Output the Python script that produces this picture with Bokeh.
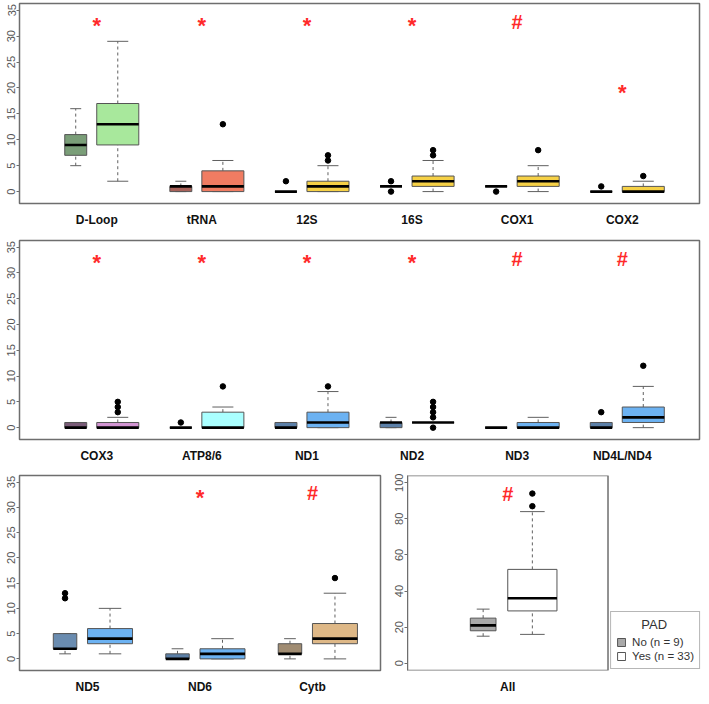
import math
from bokeh.plotting import figure
from bokeh.models import ColumnDataSource, FixedTicker, Range1d, Legend, LegendItem, BoxAnnotation
from bokeh.layouts import column, row
from bokeh.embed import file_html
from bokeh.resources import INLINE
from bokeh.core.properties import value

# ---------------- data ----------------
genes = ["D-Loop", "tRNA", "12S", "16S", "COX1", "COX2",
         "COX3", "ATP8/6", "ND1", "ND2", "ND3", "ND4L/ND4",
         "ND5", "ND6", "Cytb", "All"]

no_low     = [5, 0, 0, 1, 1, 0,  0, 0, 0, 0, 0, 0,  1, 0, 0,  15]
no_q1      = [7, 0, 0, 1, 1, 0,  0, 0, 0, 0, 0, 0,  2, 0, 1,  18]
no_median  = [9, 1, 0, 1, 1, 0,  0, 0, 0, 1, 0, 0,  2, 0, 1,  21]
no_q3      = [11, 1, 0, 1, 1, 0, 1, 0, 1, 1, 0, 1,  5, 1, 3,  25]
no_high    = [16, 2, 0, 1, 1, 0, 1, 0, 1, 2, 0, 1,  5, 2, 4,  30]
no_out     = [[], [], [2], [0, 2], [0], [1],
              [], [1], [], [], [], [3],
              [12, 13], [], [], []]

yes_low    = [2, 0, 0, 0, 0, 0,  0, 0, 0, 1, 0, 0,  1, 0, 0,  16]
yes_q1     = [9, 0, 0, 1, 1, 0,  0, 0, 0, 1, 0, 1,  3, 0, 3,  29]
yes_median = [13, 1, 1, 2, 2, 0, 0, 0, 1, 1, 0, 2,  4, 1, 4,  36]
yes_q3     = [17, 4, 2, 3, 3, 1, 1, 3, 3, 1, 1, 4,  6, 2, 7,  52]
yes_high   = [29, 6, 5, 6, 5, 2, 2, 4, 7, 1, 2, 8,  10, 4, 13, 84]
yes_out    = [[], [13], [6, 7], [7, 8], [8], [3],
              [3, 4, 5], [8], [8], [0, 2, 3, 4, 5], [], [12],
              [], [], [16], [87, 94]]

sig_mark = ["*", "*", "*", "*", "#", "*",
            "*", "*", "*", "*", "#", "#",
            "", "*", "#", "#"]
sig_y = [33, 33, 33, 33, 33, 20,
         33, 33, 33, 33, 33, 33,
         33, 33, 33, 94.5]

no_colors = ["#7A9E78", "#A8625A", "#C9A830", "#C9A830", "#C9A830", "#C9A830",
             "#7A5C78", "#7FBFBF", "#5C80A8", "#5C80A8", "#5C80A8", "#5C80A8",
             "#6A8CB0", "#5C80A8", "#A08C72", "#A9A9A9"]
yes_colors = ["#A8E89C", "#F07C62", "#F6D146", "#F6D146", "#F6D146", "#F6D146",
              "#D294D2", "#AAFFFF", "#6CB2F2", "#6CB2F2", "#6CB2F2", "#6CB2F2",
              "#6CB2F2", "#6CB2F2", "#DEB887", "#FFFFFF"]

n_no, n_yes = 9, 33
legend_title = "PAD"
legend_labels = ["No (n = 9)", "Yes (n = 33)"]

panels = [list(range(0, 6)), list(range(6, 12)), list(range(12, 15)), [15]]

FONT = "Liberation Sans"
OUTLINE = "#6E6E6E"


def make_panel(idx, width, height, borders, xr, yr, yticks, legend_box=None):
    top, right, bottom, left = borders
    p = figure(width=width, height=height, output_backend="svg", toolbar_location=None,
               x_range=Range1d(*xr), y_range=Range1d(*yr),
               min_border_top=top, min_border_right=right,
               min_border_bottom=bottom, min_border_left=left)
    p.background_fill_color = "white"
    p.border_fill_color = "white"
    p.outline_line_color = OUTLINE
    p.outline_line_width = 1.5
    p.grid.visible = False

    wy = 0.8
    wn = 0.8 * math.sqrt(n_no / n_yes)
    xs, ws, lo, q1, md, q3, hi, cols = [], [], [], [], [], [], [], []
    ox, oy = [], []
    for k, i in enumerate(idx):
        c = 2 * k
        for (x, w, l, a, m, b, h, col, outs) in [
            (c - 0.4, wn, no_low[i], no_q1[i], no_median[i], no_q3[i], no_high[i], no_colors[i], no_out[i]),
            (c + 0.4, wy, yes_low[i], yes_q1[i], yes_median[i], yes_q3[i], yes_high[i], yes_colors[i], yes_out[i]),
        ]:
            xs.append(x); ws.append(w); lo.append(l); q1.append(a); md.append(m)
            q3.append(b); hi.append(h); cols.append(col)
            for o in outs:
                ox.append(x); oy.append(o)

    src = ColumnDataSource(dict(
        x=xs, w=ws, lo=lo, q1=q1, md=md, q3=q3, hi=hi, col=cols,
        xl=[x - w / 2 for x, w in zip(xs, ws)], xr=[x + w / 2 for x, w in zip(xs, ws)],
        cl=[x - w / 4 for x, w in zip(xs, ws)], cr=[x + w / 4 for x, w in zip(xs, ws)],
    ))
    # whiskers
    p.segment(x0="x", y0="lo", x1="x", y1="q1", source=src, line_color="#606060",
              line_width=1, line_dash="3 3")
    p.segment(x0="x", y0="q3", x1="x", y1="hi", source=src, line_color="#606060",
              line_width=1, line_dash="3 3")
    # caps
    p.segment(x0="cl", y0="lo", x1="cr", y1="lo", source=src, line_color="#606060", line_width=1)
    p.segment(x0="cl", y0="hi", x1="cr", y1="hi", source=src, line_color="#606060", line_width=1)
    # boxes
    boxes = p.vbar(x="x", width="w", bottom="q1", top="q3", source=src,
                   fill_color="col", line_color="#555555", line_width=1)
    # medians
    p.segment(x0="xl", y0="md", x1="xr", y1="md", source=src, line_color="black", line_width=2.6)
    # outliers
    p.scatter(ox, oy, size=5.5, color="black")

    # significance marks
    tx, ty, tt, ts, to = [], [], [], [], []
    for k, i in enumerate(idx):
        if sig_mark[i]:
            star = sig_mark[i] == "*"
            tx.append(2 * k); ty.append(sig_y[i]); tt.append(sig_mark[i])
            ts.append("22px" if star else "20px")
            to.append(5 if star else 1)
    tsrc = ColumnDataSource(dict(x=tx, y=ty, t=tt, s=ts, o=to))
    p.text(x="x", y="y", text="t", source=tsrc, text_font=value(FONT), text_font_style="bold",
           text_font_size="s", y_offset="o", text_color="#FF2A2A", text_align="center",
           text_baseline="middle")

    # axes
    p.xaxis.ticker = FixedTicker(ticks=[2 * k for k in range(len(idx))])
    p.xaxis.major_label_overrides = {2 * k: genes[i] for k, i in enumerate(idx)}
    p.xaxis.axis_line_color = None
    p.xaxis.major_tick_line_color = None
    p.xaxis.minor_tick_line_color = None
    p.xaxis.major_label_standoff = 3
    p.xaxis.major_label_text_font = FONT
    p.xaxis.major_label_text_font_style = "bold"
    p.xaxis.major_label_text_font_size = "12px"
    p.xaxis.major_label_text_color = "#111111"

    p.yaxis.ticker = FixedTicker(ticks=yticks)
    p.yaxis.major_label_orientation = "vertical"
    p.yaxis.axis_line_color = OUTLINE
    p.yaxis.major_tick_line_color = OUTLINE
    p.yaxis.major_tick_out = 3
    p.yaxis.major_tick_in = 0
    p.yaxis.minor_tick_line_color = None
    p.yaxis.major_label_standoff = 1
    p.yaxis.major_label_text_font = FONT
    p.yaxis.major_label_text_font_size = "11px"
    p.yaxis.major_label_text_color = "#555555"

    if legend_box is not None:
        # the panel box only covers the "All" data area; the rest of the frame holds the legend
        p.outline_line_color = None
        bl, br, bb, bt = legend_box
        p.add_layout(BoxAnnotation(left=bl, right=br, bottom=bb, top=bt, fill_alpha=0,
                                   line_color=OUTLINE, line_alpha=1.0, line_width=1.5))
        leg = Legend(items=[LegendItem(label=legend_labels[0], renderers=[boxes], index=0),
                            LegendItem(label=legend_labels[1], renderers=[boxes], index=1)],
                     location="bottom_right", title="\u00a0" * 7 + legend_title)
        leg.title_text_font = FONT
        leg.title_text_font_style = "normal"
        leg.title_text_font_size = "13px"
        leg.title_text_color = "#333333"
        leg.title_standoff = 3
        leg.label_text_font = FONT
        leg.label_text_font_size = "11.5px"
        leg.label_text_color = "#333333"
        leg.label_height = 14
        leg.glyph_height = 10
        leg.glyph_width = 10
        leg.label_standoff = 6
        leg.spacing = 0
        leg.padding = 5
        leg.margin = 1
        leg.border_line_color = OUTLINE
        leg.border_line_width = 1.5
        leg.background_fill_color = "white"
        p.add_layout(leg, "center")
    return p


yt35 = [0, 5, 10, 15, 20, 25, 30, 35]
p1 = make_panel(panels[0], 701, 229, (3, 2, 17, 19), (-1.47, 11.47), (-2.3, 36.3), yt35)
p2 = make_panel(panels[1], 701, 236, (11, 2, 14, 19), (-1.47, 11.47), (-2.3, 36.3), yt35)
p3 = make_panel(panels[2], 390, 231, (10, 10, 15, 19), (-1.21, 5.21), (-2.3, 36.3), yt35)
# "All" panel: its box spans -1.63..1.63; the frame extends right to hold the legend
p4 = make_panel(panels[3], 311, 231, (10, 0, 15, 17), (-1.63, 3.15), (-4, 104),
                [0, 20, 40, 60, 80, 100], legend_box=(-1.63, 1.63, -4, 104))

layout = column(p1, p2, row(p3, p4))
open("out.html", "w").write(file_html(layout, INLINE))
